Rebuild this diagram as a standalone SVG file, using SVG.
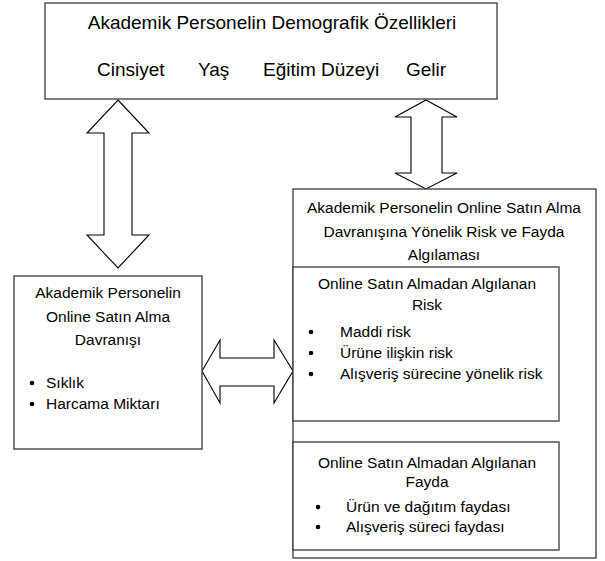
<svg xmlns="http://www.w3.org/2000/svg" width="605" height="561" viewBox="0 0 605 561">
<style>
.box{fill:#fff;stroke:#3a3a3a;stroke-width:1.3}
.arr{fill:#fff;stroke:#000;stroke-width:1.1;stroke-linejoin:miter}
text{font-family:"Liberation Sans",Arial,sans-serif;font-size:15.5px;fill:#000}
.c{text-anchor:middle}
.big{font-size:19px}
.dot{fill:#000}
</style>
<rect width="605" height="561" fill="#fff"/>
<g id="connectors">
<polygon class="arr" points="118,100 149,133 132,133 132,235 149,235 118,268 87,235 104,235 104,133 87,133"/>
<polygon class="arr" points="426,100 457,117 442,117 442,173 457,173 426,189 395,173 411,173 411,117 395,117"/>
<polygon class="arr" points="202,371 220,340 220,358 274,358 274,340 293,371 274,403 274,386 220,386 220,403"/>
</g>
<g id="demografik">
<rect class="box" x="45" y="3" width="452" height="96"/>
<text class="big c" x="272" y="29">Akademik Personelin Demografik Özellikleri</text>
<text class="big" x="97" y="76">Cinsiyet</text>
<text class="big" x="198" y="76">Yaş</text>
<text class="big" x="263" y="76">Eğitim Düzeyi</text>
<text class="big" x="406" y="76">Gelir</text>
</g>
<g id="davranis">
<rect class="box" x="14" y="276" width="188" height="173"/>
<text class="c" x="108" y="298">Akademik Personelin</text>
<text class="c" x="108" y="322">Online Satın Alma</text>
<text class="c" x="108" y="345">Davranışı</text>
<circle class="dot" cx="32" cy="383" r="2.3"/>
<text x="46" y="388">Sıklık</text>
<circle class="dot" cx="32" cy="404" r="2.3"/>
<text x="46" y="409">Harcama Miktarı</text>
</g>
<g id="risk-fayda">
<rect class="box" x="293" y="189" width="303" height="369"/>
<text class="c" x="444" y="213">Akademik Personelin Online Satın Alma</text>
<text class="c" x="444" y="237">Davranışına Yönelik Risk ve Fayda</text>
<text class="c" x="444" y="260">Algılaması</text>
</g>
<g id="risk">
<rect class="box" x="293" y="267" width="266" height="154"/>
<text class="c" x="427" y="289">Online Satın Almadan Algılanan</text>
<text class="c" x="427" y="310">Risk</text>
<circle class="dot" cx="311" cy="332" r="2.3"/>
<text x="340" y="337">Maddi risk</text>
<circle class="dot" cx="311" cy="353" r="2.3"/>
<text x="340" y="358">Ürüne ilişkin risk</text>
<circle class="dot" cx="311" cy="374" r="2.3"/>
<text x="340" y="379">Alışveriş sürecine yönelik risk</text>
</g>
<g id="fayda">
<rect class="box" x="293" y="442" width="266" height="108"/>
<text class="c" x="427" y="468">Online Satın Almadan Algılanan</text>
<text class="c" x="427" y="487">Fayda</text>
<circle class="dot" cx="318" cy="507" r="2.3"/>
<text x="346" y="512">Ürün ve dağıtım faydası</text>
<circle class="dot" cx="318" cy="527" r="2.3"/>
<text x="346" y="532">Alışveriş süreci faydası</text>
</g>
</svg>
